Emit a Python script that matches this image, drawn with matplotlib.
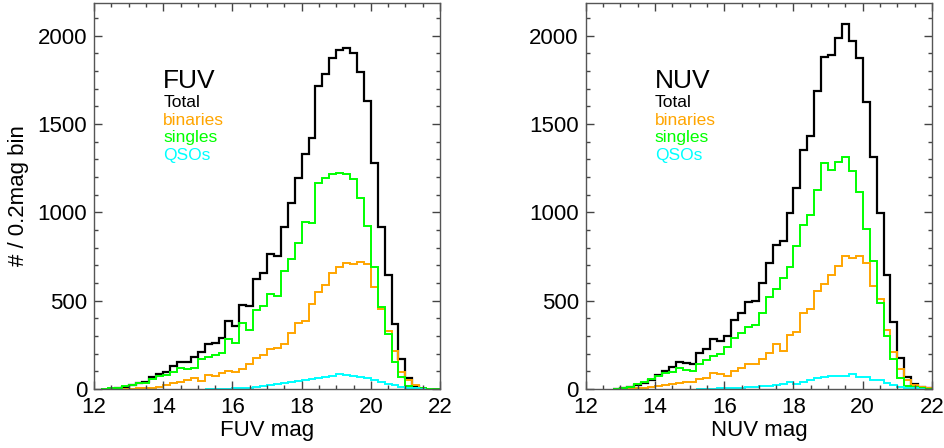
import matplotlib
matplotlib.use("Agg")
import matplotlib.pyplot as plt
from matplotlib.ticker import MultipleLocator

plt.rcParams['font.family'] = ['Liberation Sans', 'DejaVu Sans']

# histogram bins: 0.2 mag wide, starting at 12.0
bin_width = 0.2
mag_min = 12.0

# FUV panel (first value belongs to bin starting at mag_min + start*0.2)
fuv_total_start = 2
fuv_total = [2, 5, 10, 23, 36, 41, 66, 85, 98, 130, 155, 155, 179, 211, 255, 262,
             287, 387, 357, 475, 470, 621, 658, 764, 753, 919, 1051, 1192, 1330,
             1419, 1715, 1781, 1871, 1918, 1932, 1900, 1796, 1630, 1277, 915, 645,
             366, 170, 60, 17, 0]
fuv_singles_start = 1
fuv_singles = [1, 3, 8, 17, 23, 32, 36, 55, 74, 79, 98, 117, 111, 117, 168, 179,
               192, 206, 281, 258, 372, 332, 445, 470, 538, 526, 670, 734, 828, 943,
               941, 1164, 1192, 1217, 1224, 1215, 1187, 1079, 922, 692, 466, 311,
               151, 70, 17, 5, 3, 2, 1]
fuv_binaries_start = 4
fuv_binaries = [1, 2, 3, 5, 8, 13, 23, 32, 38, 51, 60, 47, 79, 74, 89, 104, 98,
                111, 143, 176, 192, 225, 230, 253, 315, 372, 387, 481, 551, 589,
                658, 692, 711, 705, 720, 705, 579, 451, 330, 217, 98, 51, 23, 3]
fuv_qsos_start = 16
fuv_qsos = [1, 1, 2, 2, 3, 5, 8, 12, 17, 22, 28, 35, 40, 45, 50, 55, 60, 68, 76,
            84, 82, 74, 68, 60, 52, 40, 30, 20, 12, 6, 3, 1]

# NUV panel
nuv_total_start = 4
nuv_total = [1, 3, 13, 23, 32, 51, 79, 104, 123, 155, 149, 141, 206, 225, 281,
             274, 300, 390, 432, 492, 497, 598, 715, 815, 839, 994, 1136, 1353,
             1432, 1686, 1881, 1890, 1985, 2066, 1971, 1871, 1626, 1311, 998, 645,
             381, 174, 70, 28, 13, 3]
nuv_singles_start = 4
nuv_singles = [1, 3, 13, 28, 41, 55, 74, 89, 98, 117, 108, 104, 141, 164, 187,
               198, 236, 287, 319, 349, 362, 428, 519, 564, 626, 689, 809, 928,
               985, 1126, 1281, 1239, 1287, 1315, 1236, 1117, 905, 726, 485, 300,
               168, 60, 17, 9, 5, 2]
nuv_binaries_start = 6
nuv_binaries = [2, 4, 7, 12, 19, 23, 28, 36, 41, 41, 55, 60, 92, 85, 75, 104, 117,
                141, 141, 168, 202, 255, 215, 306, 324, 428, 451, 556, 594, 645,
                696, 753, 739, 753, 711, 583, 507, 334, 211, 111, 51, 23, 13, 3]
nuv_qsos_start = 16
nuv_qsos = [1, 1, 2, 3, 4, 5, 8, 12, 13, 15, 18, 20, 28, 41, 28, 41, 51, 60, 70,
            73, 73, 74, 85, 70, 66, 52, 50, 32, 23, 13, 6, 3, 1]

labels = ['Total', 'binaries', 'singles', 'QSOs']
colors = ['black', '#FFA500', '#00FF00', '#00FFFF']

panels = [
    ('FUV', [(fuv_total_start, fuv_total), (fuv_binaries_start, fuv_binaries),
             (fuv_singles_start, fuv_singles), (fuv_qsos_start, fuv_qsos)]),
    ('NUV', [(nuv_total_start, nuv_total), (nuv_binaries_start, nuv_binaries),
             (nuv_singles_start, nuv_singles), (nuv_qsos_start, nuv_qsos)]),
]

fig = plt.figure(figsize=(9.44, 4.48), dpi=100)
ax_rects = [[0.0996, 0.1317, 0.3665, 0.8616], [0.6204, 0.1317, 0.3669, 0.8616]]

for (band, series), rect in zip(panels, ax_rects):
    ax = fig.add_axes(rect)
    for (start, vals), col in zip(series, colors):
        edges = [mag_min + bin_width * (start + i) for i in range(len(vals) + 1)]
        lw = 1.6 if col == 'black' else 1.4
        ax.stairs(vals, edges, color=col, linewidth=lw, baseline=0)

    ax.set_xlim(12, 22)
    ax.set_ylim(0, 2185)
    ax.xaxis.set_major_locator(MultipleLocator(2))
    ax.xaxis.set_minor_locator(MultipleLocator(0.5))
    ax.yaxis.set_major_locator(MultipleLocator(500))
    ax.yaxis.set_minor_locator(MultipleLocator(100))
    ax.tick_params(which='both', direction='in', top=True, right=True,
                   color='#444444', labelsize=16)
    ax.tick_params(which='major', length=6, width=1)
    ax.tick_params(which='minor', length=3, width=1)
    ax.tick_params(axis='x', pad=6)
    ax.tick_params(axis='y', pad=5)
    for spine in ax.spines.values():
        spine.set_color('#555555')
        spine.set_linewidth(1.0)

    ax.set_xlabel(band + ' mag', fontsize=16, labelpad=1)
    if band == 'FUV':
        ax.set_ylabel('# / 0.2mag bin', fontsize=16, labelpad=6)

    # in-plot legend text
    ax.text(0.2, 0.78, band, transform=ax.transAxes, fontsize=19, color='black')
    ys = [0.73, 0.684, 0.639, 0.593]
    for lab, col, y in zip(labels, colors, ys):
        ax.text(0.2, y, lab, transform=ax.transAxes, fontsize=12.5, color=col)

fig.savefig('out.png', dpi=100)
